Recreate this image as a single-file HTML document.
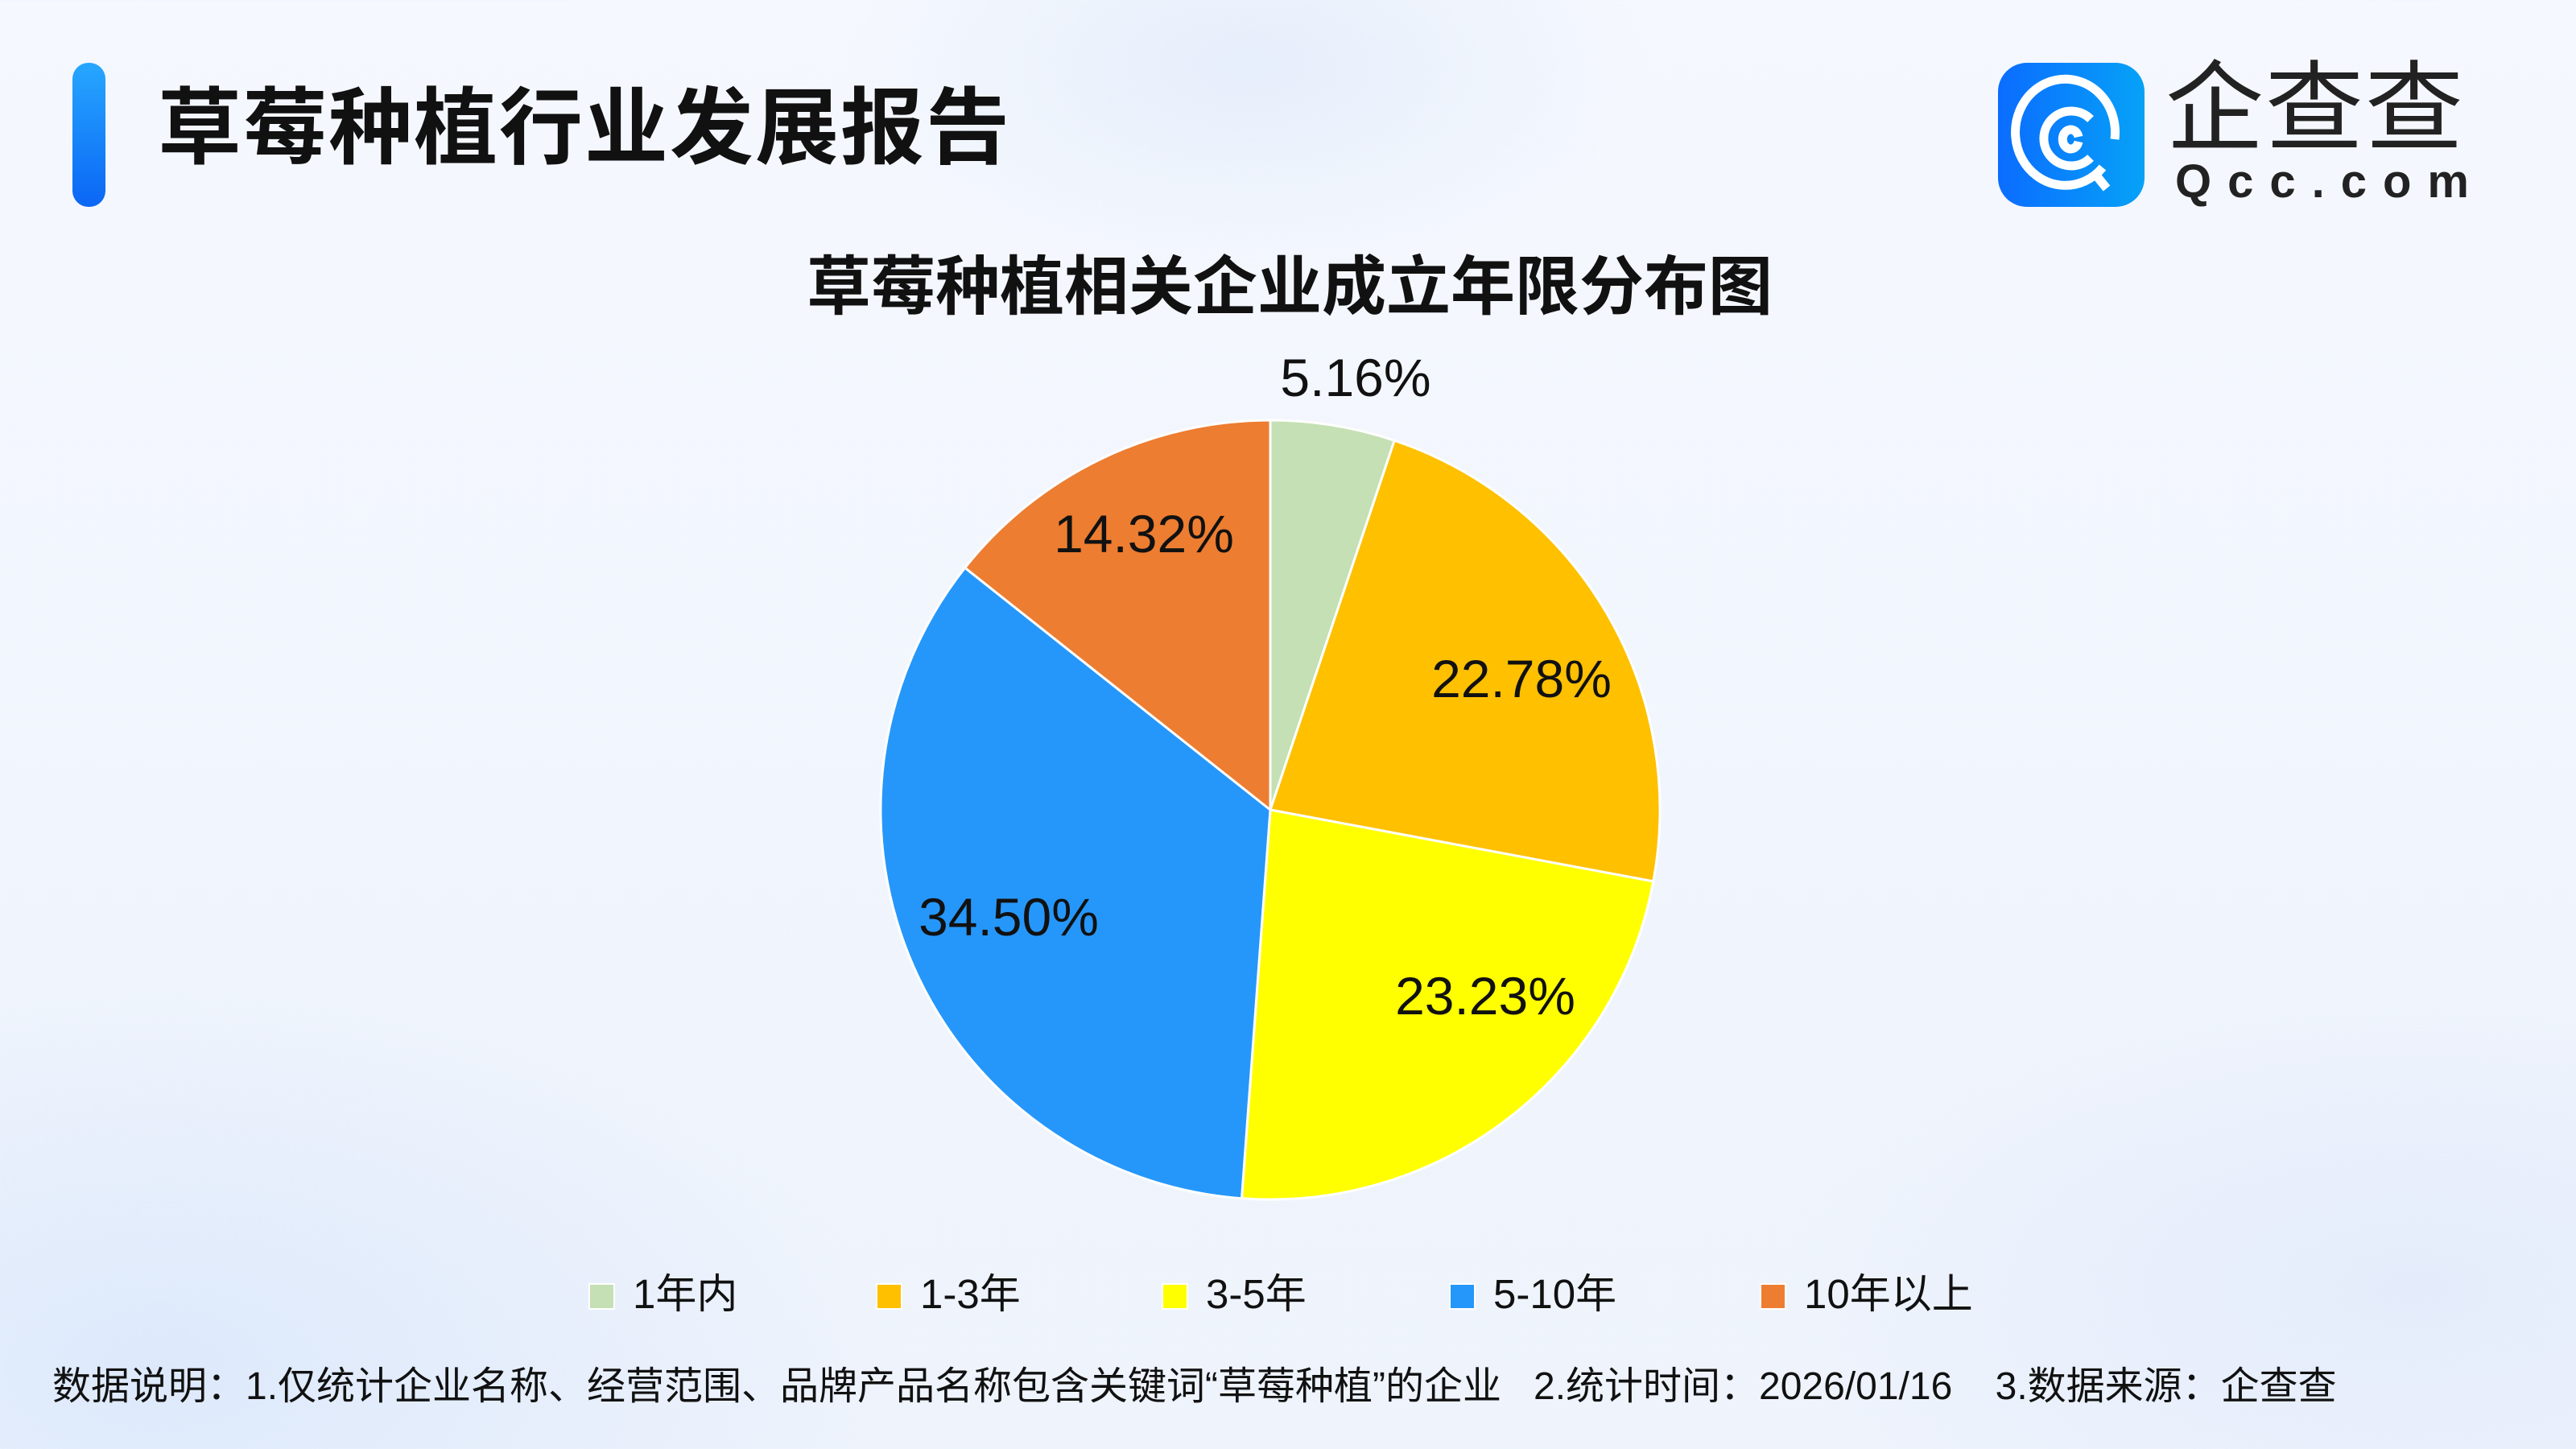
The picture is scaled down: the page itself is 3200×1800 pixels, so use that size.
<!DOCTYPE html>
<html><head><meta charset="utf-8"><style>
html,body{margin:0;padding:0}
body{width:3200px;height:1800px;position:relative;overflow:hidden;font-family:"Liberation Sans","Noto Sans CJK SC",sans-serif;color:#111;
background:radial-gradient(ellipse 500px 260px at 1550px 80px,#e6eefb 0%,rgba(230,238,251,0) 100%),radial-gradient(ellipse 900px 500px at 200px 1700px,#dde9fb 0%,rgba(221,233,251,0) 100%),radial-gradient(ellipse 800px 400px at 3000px 1600px,#e4ecfb 0%,rgba(228,236,251,0) 100%),linear-gradient(180deg,#f5f8fe 0%,#eef3fc 100%);}
.t{position:absolute;white-space:nowrap}
.lg{position:absolute;top:1583px;font-size:51px;line-height:50px;white-space:nowrap}
.lg i{display:inline-block;width:33px;height:33px;margin-right:22px;vertical-align:-2px;border:2px solid #fff;box-sizing:border-box}
</style></head><body>
<div style="position:absolute;left:90px;top:78px;width:41px;height:179px;border-radius:20px;background:linear-gradient(180deg,#27a7ff,#0a66f5)"></div>
<div class="t" style="left:196px;top:100px;font-size:104px;font-weight:bold;line-height:120px;letter-spacing:2px">草莓种植行业发展报告</div>
<div style="position:absolute;left:2482px;top:78px;width:182px;height:179px;border-radius:36px;background:linear-gradient(90deg,#0b6cff,#06a2f7)">
<svg width="182" height="179" viewBox="0 0 182 179"><g fill="none" stroke="#fff" stroke-width="11" stroke-linecap="butt">
<path d="M130 130 A62 66 0 1 1 145 95"/><path d="M115 70 A34 34 0 1 0 115 118"/><path d="M100 92 A10 12 0 1 0 100 98"/><path d="M118 135 L135 156"/></g></svg></div>
<div class="t" style="left:2690px;top:60px;font-size:122px;line-height:150px;color:#222;letter-spacing:2px">企查查</div>
<div class="t" style="left:2702px;top:194px;font-size:58px;line-height:64px;color:#222;letter-spacing:20px;font-weight:bold">Qcc.com</div>
<div class="t" style="left:0;width:3204px;text-align:center;top:310px;font-size:80px;font-weight:bold;line-height:94px">草莓种植相关企业成立年限分布图</div>
<svg style="position:absolute;left:0;top:0" width="3200" height="1800">
<g stroke="#fff" stroke-width="3" stroke-linejoin="round">
<path d="M1578 1006 L1578 522 A484 484 0 0 1 1732.2 547.2 Z" fill="#c5e0b4"/>
<path d="M1578 1006 L1732.2 547.2 A484 484 0 0 1 2053.8 1094.9 Z" fill="#ffc000"/>
<path d="M1578 1006 L2053.8 1094.9 A484 484 0 0 1 1542.5 1488.7 Z" fill="#ffff00"/>
<path d="M1578 1006 L1542.5 1488.7 A484 484 0 0 1 1198.7 705.3 Z" fill="#2697fa"/>
<path d="M1578 1006 L1198.7 705.3 A484 484 0 0 1 1578 522 Z" fill="#ed7d31"/>
</g>
<g font-family="Liberation Sans, sans-serif" font-size="66" text-anchor="middle" fill="#111">
<text x="1684" y="492">5.16%</text>
<text x="1890" y="866">22.78%</text>
<text x="1845" y="1260">23.23%</text>
<text x="1253" y="1162">34.50%</text>
<text x="1421" y="686">14.32%</text>
</g></svg>
<div class="lg" style="left:731px"><i style="background:#c5e0b4"></i>1年内</div>
<div class="lg" style="left:1088px"><i style="background:#ffc000"></i>1-3年</div>
<div class="lg" style="left:1443px"><i style="background:#ffff00"></i>3-5年</div>
<div class="lg" style="left:1800px"><i style="background:#2697fa"></i>5-10年</div>
<div class="lg" style="left:2186px"><i style="background:#ed7d31"></i>10年以上</div>
<div class="t" style="left:65px;top:1695px;font-size:48px;line-height:56px">数据说明：1.仅统计企业名称、经营范围、品牌产品名称包含关键词“草莓种植”的企业&nbsp;&nbsp;&nbsp;2.统计时间：2026/01/16&nbsp;&nbsp;&nbsp;&nbsp;3.数据来源：企查查</div>
</body></html>
